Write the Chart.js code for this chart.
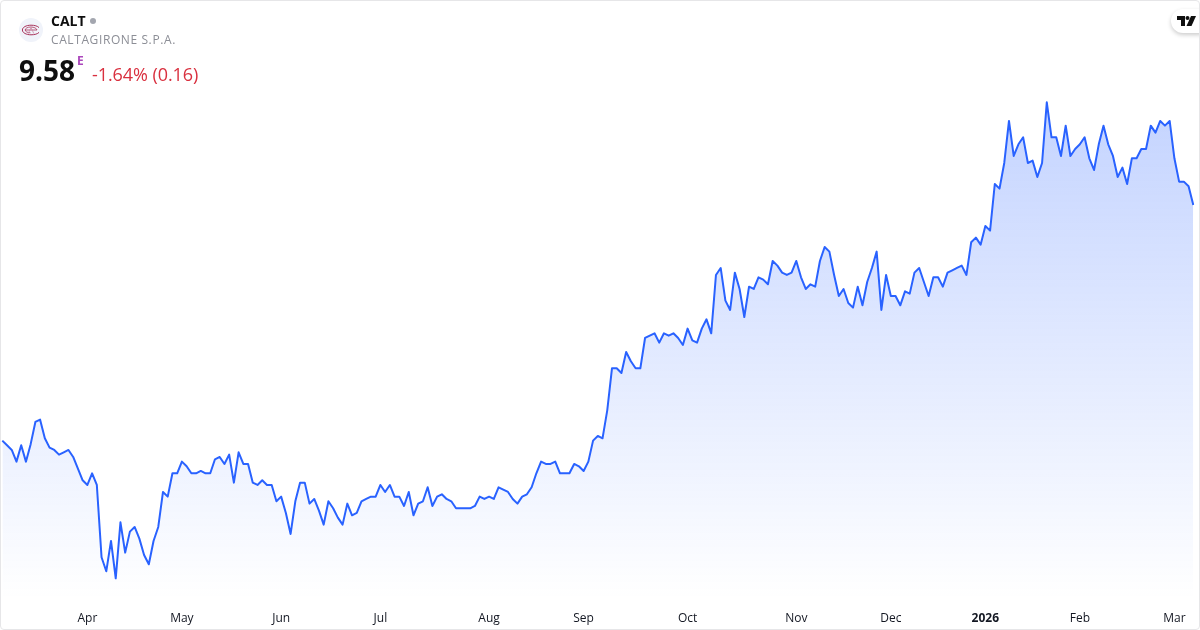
<!DOCTYPE html>
<html>
<head>
<meta charset="utf-8">
<title>CALT</title>
<script src="https://cdn.jsdelivr.net/npm/chart.js@4"></script>
<style>
  html, body { margin: 0; padding: 0; background: #fff; }
  body { width: 1200px; height: 630px; position: relative; overflow: hidden; font-family: "Open Sans", sans-serif; }
  #card { position: absolute; inset: 0; box-sizing: border-box; border: 1px solid #e6e6e8; border-radius: 4px; pointer-events: none; z-index: 3; }
  #chartBox { position: absolute; left: 0; top: 0; width: 1200px; height: 630px; }
  .t { position: absolute; white-space: nowrap; line-height: 1; }
  #sym { left: 51px; top: 14px; font-size: 14px; font-weight: 700; color: #0f0f0f; }
  #dot { position: absolute; left: 90px; top: 18px; width: 6px; height: 6px; border-radius: 50%; background: #a3a6af; }
  #name { left: 51px; top: 34px; font-size: 12px; color: #8c8e96; letter-spacing: 0.6px; }
  #price { left: 19px; top: 56px; font-size: 28px; font-weight: 700; color: #0f0f0f; }
  #exch { left: 77px; top: 55px; font-size: 12px; font-weight: 700; color: #ab47bc; }
  #chg { left: 92px; top: 65px; font-size: 18px; color: #d9303f; letter-spacing: -0.07px; }
  #logo { position: absolute; left: 19px; top: 18px; }
  #tv { position: absolute; left: 1171px; top: 9px; width: 40px; height: 24px; border-radius: 12px; background: #fff; box-shadow: 0 2px 4px rgba(0,0,0,.2); z-index: 2; }
  #tv svg { position: absolute; left: 6px; top: 7px; }
</style>
</head>
<body>
<div id="chartBox"><canvas id="chart" width="1200" height="630"></canvas></div>
<div id="card"></div>
<svg id="logo" width="24" height="24" viewBox="0 0 24 24">
  <circle cx="12" cy="12" r="12" fill="#f0f3fa"/>
  <path d="M20 9.6C18.6 8 15.6 7.2 12 7.2 7.2 7.2 3.4 9.2 3.4 12s3.8 4.8 8.6 4.8c3.6 0 6.6-.8 8-2.4" fill="none" stroke="#a8325a" stroke-width="1"/>
  <path d="M6.2 12c0-1.7 2.4-3 5.6-3s5.8 1.3 6.2 3H6.2zM6.2 12c0 1.6 2.4 2.8 5.2 2.8" fill="none" stroke="#a8325a" stroke-width="0.8"/>
  <path d="M9.2 15.6 12 9.4l2.8 6.2" fill="none" stroke="#c98aa6" stroke-width="0.8"/>
</svg>
<div class="t" id="sym">CALT</div><div id="dot"></div>
<div class="t" id="name">CALTAGIRONE S.P.A.</div>
<div class="t" id="price">9.58</div>
<div class="t" id="exch">E</div>
<div class="t" id="chg">-1.64% (0.16)</div>
<div id="tv"><svg width="19" height="10" viewBox="0 0 19 10"><path d="M0 0h8v10H4V4H0z" fill="#0f0f0f"/><circle cx="10.5" cy="2" r="2" fill="#0f0f0f"/><path d="M14 0h5l-4.5 10H9.5z" fill="#0f0f0f"/></svg></div>
<script>
const values = [
  7.56, 7.52, 7.48, 7.38, 7.52, 7.38, 7.53, 7.72, 7.74, 7.58, 7.50, 7.48, 7.44, 7.46, 7.48, 7.42,
  7.32, 7.22, 7.18, 7.28, 7.18, 6.56, 6.44, 6.70, 6.38, 6.86, 6.60, 6.78, 6.82, 6.72, 6.58, 6.50,
  6.70, 6.82, 7.12, 7.08, 7.28, 7.28, 7.38, 7.34, 7.28, 7.28, 7.30, 7.28, 7.28, 7.40, 7.42, 7.36,
  7.44, 7.20, 7.46, 7.36, 7.36, 7.20, 7.18, 7.22, 7.18, 7.18, 7.04, 7.08, 6.94, 6.76, 7.04, 7.20,
  7.20, 7.02, 7.06, 6.96, 6.84, 7.04, 6.98, 6.90, 6.84, 7.02, 6.92, 6.94, 7.04, 7.06, 7.08, 7.08,
  7.18, 7.12, 7.18, 7.08, 7.08, 7.00, 7.12, 6.92, 7.02, 7.04, 7.16, 7.00, 7.08, 7.10, 7.06, 7.04,
  6.98, 6.98, 6.98, 6.98, 7.00, 7.08, 7.06, 7.08, 7.06, 7.16, 7.14, 7.12, 7.06, 7.02, 7.08, 7.10,
  7.16, 7.28, 7.38, 7.36, 7.36, 7.38, 7.28, 7.28, 7.28, 7.36, 7.34, 7.30, 7.38, 7.56, 7.60,
  7.58, 7.82, 8.18, 8.18, 8.14, 8.32, 8.24, 8.18, 8.18, 8.44, 8.46, 8.48, 8.40, 8.48, 8.46, 8.48,
  8.44, 8.38, 8.52, 8.42, 8.40, 8.52, 8.60, 8.48, 8.98, 9.04, 8.76, 8.68, 9.00, 8.86, 8.62, 8.88,
  8.86, 8.96, 8.94, 8.90, 9.10, 9.06, 9.00, 8.98, 9.00, 9.10, 8.96, 8.86, 8.90, 8.88, 9.10, 9.22,
  9.18, 8.98, 8.80, 8.86, 8.74, 8.70, 8.88, 8.72, 8.92, 9.04, 9.18,
  8.68, 8.98, 8.80, 8.80, 8.72, 8.84, 8.82, 9.00, 9.04, 8.92, 8.80, 8.96, 8.96, 8.88, 9.00, 9.02,
  9.04, 9.06, 8.98, 9.26, 9.30, 9.24, 9.40, 9.36, 9.76, 9.72,
  9.94, 10.30, 10.00, 10.10, 10.16, 9.94, 9.96, 9.82, 9.94, 10.46, 10.16, 10.16, 10.00, 10.26,
  10.00, 10.06, 10.10, 10.16, 9.98, 9.88, 10.10, 10.26, 10.10, 10.00, 9.82, 9.90, 9.76, 9.98,
  9.98, 10.06, 10.06, 10.26, 10.20, 10.30, 10.26, 10.30, 9.98, 9.78, 9.78, 9.74, 9.58
];
const tickIndex = [18, 38, 59, 80, 103, 123, 145, 168, 188, 208, 228, 248];
const tickLabels = ['Apr', 'May', 'Jun', 'Jul', 'Aug', 'Sep', 'Oct', 'Nov', 'Dec', '2026', 'Feb', 'Mar'];
const categories = values.map((_, i) => {
  const k = tickIndex.indexOf(i);
  return k >= 0 ? tickLabels[k] : '';
});

const chart = new Chart(document.getElementById('chart'), {
  type: 'line',
  data: {
    labels: categories,
    datasets: [{
      data: values,
      borderColor: '#2962ff',
      borderWidth: 2,
      borderJoinStyle: 'round',
      tension: 0,
      pointRadius: 0,
      fill: 'start',
      backgroundColor: (c) => {
        const area = c.chart.chartArea;
        if (!area) return 'rgba(41,98,255,0.28)';
        const g = c.chart.ctx.createLinearGradient(0, 100, 0, area.bottom);
        g.addColorStop(0, 'rgba(41,98,255,0.28)');
        g.addColorStop(1, 'rgba(41,98,255,0)');
        return g;
      }
    }]
  },
  options: {
    responsive: false,
    animation: false,
    layout: { padding: { left: 2.3, right: 6.7, top: 0, bottom: 0 } },
    plugins: { legend: { display: false }, tooltip: { enabled: false } },
    scales: {
      x: {
        grid: { display: false, tickLength: 11 },
        border: { display: false },
        afterFit: (s) => { s.height = 30; },
        ticks: {
          autoSkip: false,
          maxRotation: 0,
          padding: 0,
          color: '#131722',
          font: (c) => ({
            family: '"Open Sans", sans-serif',
            size: 12,
            weight: c.tick && c.tick.label === '2026' ? '700' : '400'
          })
        }
      },
      y: { display: false, min: 6.194, max: 11.337 }
    }
  }
});
</script>
</body>
</html>
